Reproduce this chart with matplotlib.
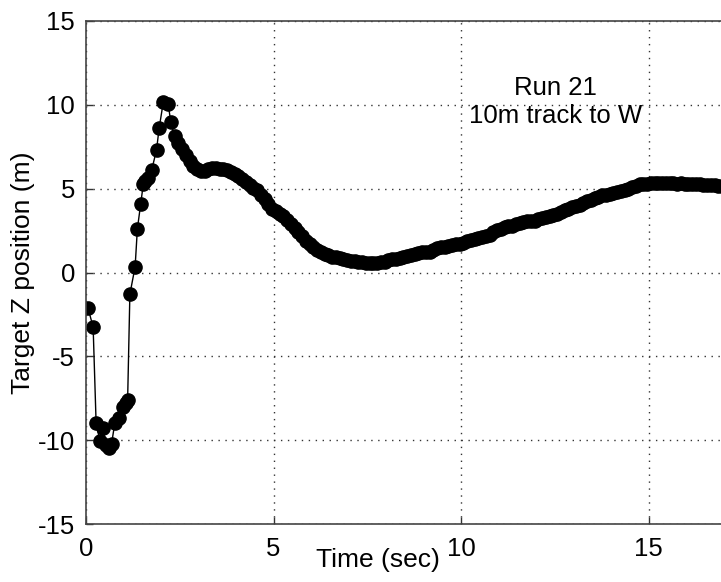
import matplotlib
matplotlib.use("Agg")
import matplotlib.pyplot as plt

plt.rcParams['font.family'] = ['Liberation Sans', 'DejaVu Sans']
plt.rcParams['axes.unicode_minus'] = False

# first seconds: single samples are visible
early_t = [0.05, 0.19, 0.27, 0.37, 0.45, 0.53, 0.61, 0.68, 0.77, 0.88, 0.98, 1.06,
           1.11, 1.17, 1.31, 1.37, 1.46, 1.53, 1.58, 1.66, 1.75, 1.88, 1.95, 2.06,
           2.19, 2.26]
early_z = [-2.1, -3.25, -9.0, -10.05, -9.3, -10.3, -10.45, -10.25, -8.95, -8.65, -8.0, -7.8,
           -7.6, -1.3, 0.35, 2.6, 4.1, 5.3, 5.45, 5.65, 6.1, 7.3, 8.6, 10.15,
           10.05, 9.0]

# rest of the run: markers overlap into a band
band_t = [2.36, 2.46, 2.56, 2.66, 2.76, 2.86, 2.96, 3.06, 3.16, 3.26,
          3.36, 3.46, 3.56, 3.66, 3.76, 3.86, 3.96, 4.06, 4.16, 4.26,
          4.36, 4.46, 4.56, 4.66, 4.76, 4.86, 4.96, 5.06, 5.16, 5.26,
          5.36, 5.46, 5.56, 5.66, 5.76, 5.86, 5.96, 6.06, 6.16, 6.26,
          6.36, 6.46, 6.56, 6.66, 6.76, 6.86, 6.96, 7.06, 7.16, 7.26,
          7.36, 7.46, 7.56, 7.66, 7.76, 7.86, 7.96, 8.06, 8.16, 8.26,
          8.36, 8.46, 8.56, 8.66, 8.76, 8.86, 8.96, 9.06, 9.16, 9.26,
          9.36, 9.46, 9.56, 9.66, 9.76, 9.86, 9.96, 10.06, 10.16, 10.26,
          10.36, 10.46, 10.56, 10.66, 10.76, 10.86, 10.96, 11.06, 11.16, 11.26,
          11.36, 11.46, 11.56, 11.66, 11.76, 11.86, 11.96, 12.06, 12.16, 12.26,
          12.36, 12.46, 12.56, 12.66, 12.76, 12.86, 12.96, 13.06, 13.16, 13.26,
          13.36, 13.46, 13.56, 13.66, 13.76, 13.86, 13.96, 14.06, 14.16, 14.26,
          14.36, 14.46, 14.56, 14.66, 14.76, 14.86, 14.96, 15.06, 15.16, 15.26,
          15.36, 15.46, 15.56, 15.66, 15.76, 15.86, 15.96, 16.06, 16.16, 16.26,
          16.36, 16.46, 16.56, 16.66, 16.76, 16.86, 16.96, 17.06, 17.16]
band_z = [8.15, 7.75, 7.35, 7.0, 6.65, 6.35, 6.2, 6.05, 6.05, 6.2,
          6.25, 6.22, 6.2, 6.15, 6.1, 6.0, 5.9, 5.75, 5.6, 5.4,
          5.2, 5.05, 4.9, 4.65, 4.4, 4.1, 3.8, 3.65, 3.5, 3.35,
          3.15, 2.9, 2.65, 2.4, 2.15, 1.9, 1.7, 1.5, 1.35, 1.2,
          1.1, 1.02, 0.95, 0.9, 0.85, 0.78, 0.72, 0.68, 0.66, 0.63,
          0.6, 0.58, 0.56, 0.55, 0.55, 0.6, 0.65, 0.72, 0.8, 0.83,
          0.85, 0.92, 1.0, 1.05, 1.1, 1.15, 1.2, 1.22, 1.25, 1.35,
          1.45, 1.5, 1.55, 1.6, 1.65, 1.68, 1.7, 1.78, 1.85, 1.92,
          2.0, 2.05, 2.1, 2.18, 2.25, 2.4, 2.55, 2.62, 2.7, 2.75,
          2.8, 2.88, 2.95, 3.0, 3.05, 3.08, 3.1, 3.18, 3.25, 3.3,
          3.35, 3.42, 3.5, 3.6, 3.7, 3.8, 3.9, 3.98, 4.05, 4.15,
          4.25, 4.35, 4.45, 4.52, 4.6, 4.65, 4.7, 4.75, 4.8, 4.85,
          4.9, 5.0, 5.1, 5.18, 5.25, 5.28, 5.3, 5.32, 5.33, 5.32,
          5.32, 5.34, 5.33, 5.31, 5.3, 5.31, 5.3, 5.29, 5.28, 5.27,
          5.25, 5.24, 5.22, 5.21, 5.2, 5.18, 5.17, 5.16, 5.15]

x_ticks = [0, 5, 10, 15]
y_ticks = [-15, -10, -5, 0, 5, 10, 15]

t = early_t + band_t
z = early_z + band_z

fig = plt.figure(figsize=(7.21, 5.82), dpi=100)
# axes runs past the right edge of the picture, like the cropped original
ax = fig.add_axes([86 / 721, 58 / 582, 750 / 721, 503 / 582])

ax.plot(t, z, color='black', linewidth=1.0, marker='o', markersize=9.5,
        markerfacecolor='black', markeredgecolor='black')

ax.set_xlim(0, 20)
ax.set_ylim(-15, 15)
ax.set_xticks(x_ticks)
ax.set_yticks(y_ticks)
ax.tick_params(direction='in', length=5, width=1, labelsize=18.5, pad=8,
               colors='#333333', labelcolor='black')
ax.tick_params(axis='x', pad=9)
ax.grid(True, color='#333333', linestyle=(0, (1, 4)), linewidth=1)
for s in ['left', 'bottom', 'top']:
    ax.spines[s].set_color('#444444')
    ax.spines[s].set_linewidth(1.2)
ax.spines['right'].set_visible(False)

ax.set_ylabel('Target Z position (m)', fontsize=19)
ax.yaxis.set_label_coords((35 - 86) / 750, 0.5)
fig.text(378 / 721, 1 - 560 / 582, 'Time (sec)', fontsize=19, ha='center', va='center')

ax.text(12.53, 10.15, 'Run 21\n10m track to W', fontsize=18.5,
        ha='center', va='center', linespacing=1.2)

fig.savefig('out.png', dpi=100)
